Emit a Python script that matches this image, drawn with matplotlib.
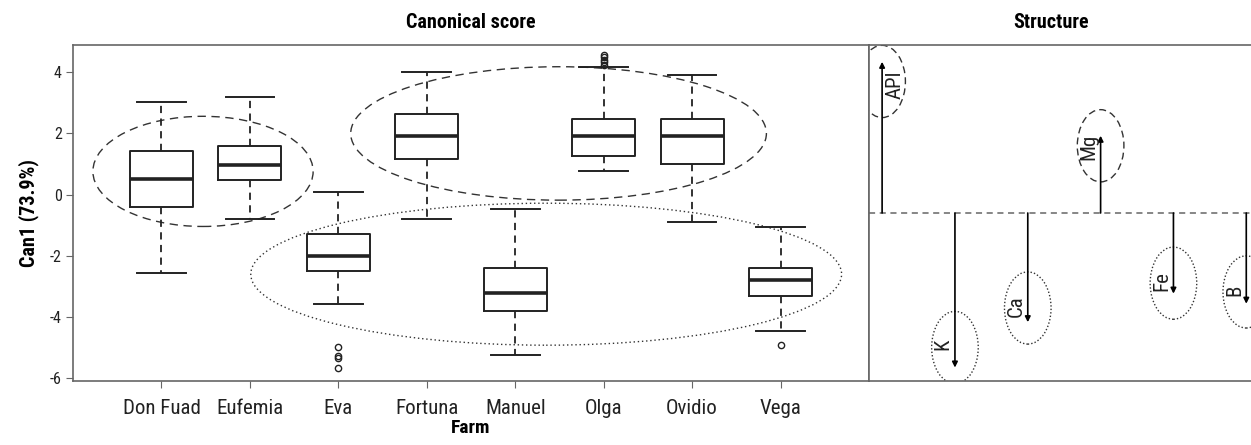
import matplotlib
matplotlib.use("Agg")
import matplotlib.pyplot as plt
from matplotlib.patches import Ellipse

plt.rcParams['font.family'] = ['Roboto Condensed', 'Liberation Sans', 'DejaVu Sans']

# canonical score summary per farm
farms = ["Don Fuad", "Eufemia", "Eva", "Fortuna", "Manuel", "Olga", "Ovidio", "Vega"]
whis_lo = [-2.55, -0.80, -3.59, -0.80, -5.25, 0.76, -0.88, -4.45]
q1 = [-0.39, 0.48, -2.48, 1.18, -3.79, 1.27, 1.00, -3.32]
med = [0.51, 0.96, -2.00, 1.92, -3.23, 1.92, 1.92, -2.78]
q3 = [1.42, 1.60, -1.28, 2.65, -2.41, 2.47, 2.47, -2.39]
whis_hi = [3.04, 3.20, 0.07, 4.00, -0.46, 4.17, 3.91, -1.05]
outliers = [[], [], [-4.99, -5.27, -5.35, -5.67], [], [],
            [4.25, 4.32, 4.40, 4.50, 4.56], [], [-4.90]]

# structure (loadings on Can1)
variables = ["API", "K", "Ca", "Mg", "Fe", "B"]
loadings = [0.90, -0.92, -0.65, 0.46, -0.48, -0.54]

# groups circled on the score panel: (center x, center y, width, height, style)
groups = [(1.47, 0.76, 2.49, 3.60, (0, (6, 4))),
          (5.49, 2.00, 4.70, 4.36, (0, (6, 4))),
          (5.35, -2.60, 6.68, 4.64, (0, (1, 2)))]

W, H = 1251, 445
fig = plt.figure(figsize=(W / 100, H / 100), dpi=100)
ax = fig.add_axes([73 / W, 64 / H, 796 / W, 336 / H])
ax2 = fig.add_axes([869 / W, 64 / H, 437 / W, 336 / H])

frame = "#666666"

stats = []
for i, name in enumerate(farms):
    stats.append(dict(label=name, med=med[i], q1=q1[i], q3=q3[i],
                      whislo=whis_lo[i], whishi=whis_hi[i], fliers=outliers[i]))
ax.bxp(stats, positions=range(1, len(farms) + 1), widths=0.71,
       boxprops=dict(color="#222222", lw=1.4),
       medianprops=dict(color="#222222", lw=2.6),
       whiskerprops=dict(color="#222222", lw=1.3, linestyle=(0, (4, 3))),
       capprops=dict(color="#222222", lw=1.4),
       capwidths=0.55,
       flierprops=dict(marker="o", markersize=4.5, markerfacecolor="none",
                       markeredgecolor="#222222", markeredgewidth=1.0))

for cx, cy, w, h, ls in groups:
    ax.add_patch(Ellipse((cx, cy), w, h, fill=False, ec="#333333",
                         lw=1.0, linestyle=ls))

ax.set_xlim(0, 9)
ax.set_ylim(-6.09, 4.89)
ax.set_yticks([-6, -4, -2, 0, 2, 4])
ax.set_yticklabels(["-6", "-4", "-2", "0", "2", "4"])
ax.tick_params(axis="y", labelsize=11.5, length=5, color=frame, pad=3, labelcolor="#222222")
ax.tick_params(axis="x", labelsize=15, length=5, color=frame, pad=8, labelcolor="#222222")
for s in ax.spines.values():
    s.set_color(frame)
    s.set_linewidth(1.2)
ax.set_xlabel("Farm", fontsize=14, fontweight="bold", labelpad=1)
ax.set_ylabel("Can1 (73.9%)", fontsize=14.5, fontweight="bold", labelpad=8)
ax.set_title("Canonical score", fontsize=14.5, fontweight="bold", pad=12)

# structure panel
xs = list(range(1, len(variables) + 1))
ax2.axhline(0, color=frame, lw=1.1, linestyle=(0, (4, 3)))
for x, v, name in zip(xs, loadings, variables):
    ax2.annotate("", xy=(x, v), xytext=(x, 0),
                 arrowprops=dict(arrowstyle="-|>", color="black", lw=1.2,
                                 mutation_scale=8, shrinkA=0, shrinkB=0))
    ls = (0, (5, 3)) if v > 0 else (0, (1, 1.5))
    ax2.add_patch(Ellipse((x, v * 0.87), 0.64, 0.43, fill=False,
                          ec="#333333", lw=1.0, linestyle=ls))
    dx = 0.18 if x == 1 else -0.16
    ax2.text(x + dx, v * 0.85, name, rotation=90, fontsize=15,
             ha="center", va="center", color="#222222")
ax2.set_xlim(0.82, 6.82)
ax2.set_ylim(-1, 1)
ax2.set_xticks([])
ax2.set_yticks([])
for s in ax2.spines.values():
    s.set_color(frame)
    s.set_linewidth(1.2)
fig.text(1050.7 / W, 1 - 22 / H, "Structure", fontsize=14.5, fontweight="bold",
         ha="center", va="center")

fig.savefig("out.png", dpi=100)
